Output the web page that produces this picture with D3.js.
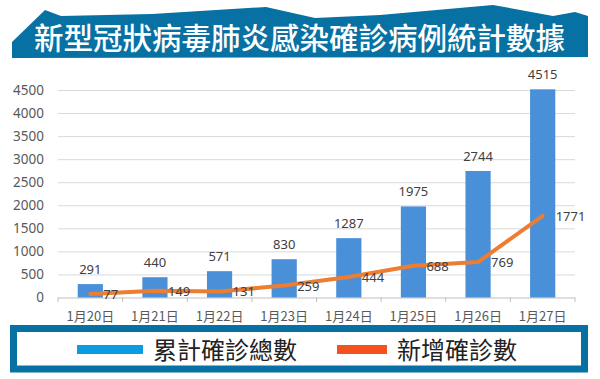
<!DOCTYPE html>
<html><head><meta charset="utf-8">
<script src="https://cdn.jsdelivr.net/npm/d3@7"></script>
<style>html,body{margin:0;padding:0;background:#fff;}svg{display:block;}</style>
</head><body>
<svg id="c" width="600" height="379"></svg>
<script>
const title = "新型冠狀病毒肺炎感染確診病例統計數據";
const categories = ["1月20日","1月21日","1月22日","1月23日","1月24日","1月25日","1月26日","1月27日"];
const totalCases = [291, 440, 571, 830, 1287, 1975, 2744, 4515];
const newCases = [77, 149, 131, 259, 444, 688, 769, 1771];
const yTicks = [0, 500, 1000, 1500, 2000, 2500, 3000, 3500, 4000, 4500];
const seriesNames = ["累計確診總數", "新增確診數"];

const svg = d3.select("#c");
const CJK = "'Noto Sans CJK TC','Noto Sans CJK SC',sans-serif";

// Banner
const banner = [[12,58],[12,42],[45,10],[61,16],[152,14],[266,7],[315,18],[380,15],[493,5],[553,16],[575,12],[588,16],[588,57]];
svg.append("path").attr("d", d3.line()(banner) + "Z").attr("fill", "#0771a3");
svg.append("text").attr("x", 299.5).attr("y", 49).attr("text-anchor", "middle")
  .attr("font-family", CJK).attr("font-size", 29.5).attr("font-weight", 500).attr("fill", "#fff").text(title);

// Scales
const x = d3.scaleBand().domain(categories).range([58, 575]).paddingInner(0.61).paddingOuter(0.305);
const y = d3.scaleLinear().domain([0, 4500]).range([297.5, 90]);
const cx = d => x(d) + x.bandwidth() / 2;

// Gridlines & y labels
const yAxis = d3.axisLeft(y).tickValues(yTicks).tickSize(-(575 - 58)).tickFormat(d3.format("d"));
const gy = svg.append("g").attr("transform", "translate(58,0)").call(yAxis);
gy.select(".domain").remove();
gy.selectAll(".tick line").attr("stroke", d => d === 0 ? "#bfbfbf" : "#d9d9d9");
gy.selectAll(".tick text").attr("x", -14).attr("font-family", "'Noto Sans',sans-serif")
  .attr("font-size", 13.5).attr("fill", "#595959");

// X axis
const step = x.step();
const tickPos = d3.range(categories.length + 1).map(i => 58 + i * step);
svg.append("g").selectAll("line").data(tickPos).join("line")
  .attr("x1", d => d).attr("x2", d => d).attr("y1", 297.5).attr("y2", 302)
  .attr("stroke", "#bfbfbf");
svg.append("g").selectAll("text").data(categories).join("text")
  .attr("x", d => cx(d)).attr("y", 321).attr("text-anchor", "middle")
  .attr("font-family", CJK).attr("font-size", 13).attr("fill", "#595959").text(d => d);

// Bars
svg.append("g").selectAll("rect").data(categories).join("rect")
  .attr("x", d => x(d)).attr("width", x.bandwidth())
  .attr("y", (d, i) => y(totalCases[i])).attr("height", (d, i) => y(0) - y(totalCases[i]))
  .attr("fill", "#4a90d9");
svg.append("g").selectAll("text").data(categories).join("text")
  .attr("x", d => cx(d)).attr("y", (d, i) => y(totalCases[i]) - 10).attr("text-anchor", "middle")
  .attr("font-family", "'Noto Sans',sans-serif").attr("font-size", 13).attr("fill", "#404040")
  .text((d, i) => totalCases[i]);

// Line
const line = d3.line().x(d => cx(d[0])).y(d => y(d[1]));
svg.append("path").datum(categories.map((c, i) => [c, newCases[i]]))
  .attr("d", line).attr("fill", "none").attr("stroke", "#ed7d31").attr("stroke-width", 4)
  .attr("stroke-linejoin", "round").attr("stroke-linecap", "round");
svg.append("g").selectAll("text").data(categories).join("text")
  .attr("x", d => cx(d) + 13).attr("y", (d, i) => y(newCases[i]) + 5)
  .attr("font-family", "'Noto Sans',sans-serif").attr("font-size", 13).attr("fill", "#404040")
  .text((d, i) => newCases[i]);

// Legend
svg.append("rect").attr("x", 13.5).attr("y", 328.5).attr("width", 571).attr("height", 40.5)
  .attr("fill", "#fff").attr("stroke", "#0771a3").attr("stroke-width", 7);
const legendColors = ["#0a9be0", "#f4511e"];
const legendX = [77, 337];
const legendW = [66, 50];
const lg = svg.append("g");
seriesNames.forEach((n, i) => {
  lg.append("rect").attr("x", legendX[i]).attr("y", 345).attr("width", legendW[i]).attr("height", 9)
    .attr("fill", legendColors[i]);
  lg.append("text").attr("x", legendX[i] + legendW[i] + 10).attr("y", 359)
    .attr("font-family", CJK).attr("font-size", 24).attr("fill", "#222").text(n);
});
</script>
</body></html>
